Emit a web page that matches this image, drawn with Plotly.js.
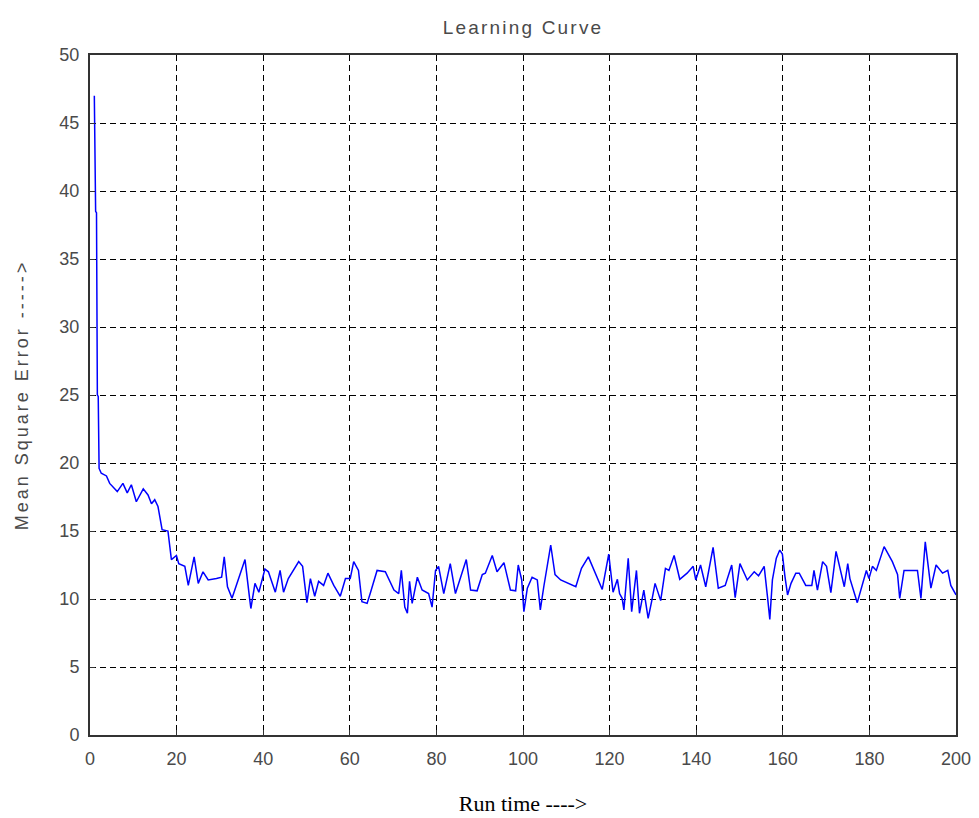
<!DOCTYPE html>
<html>
<head>
<meta charset="utf-8">
<script src="https://cdn.plot.ly/plotly-3.0.1.min.js"></script>
<style>
html,body{margin:0;padding:0;background:#fff;}
#chart{width:979px;height:818px;}
#chart .gtitle{letter-spacing:2.2px;}
#chart .ytitle{letter-spacing:3px;}
</style>
</head>
<body>
<div id="chart"></div>
<script>
// Run time (x) values
const runTime = [
  1.0, 1.3, 1.5, 1.7, 1.9, 2.1, 2.6, 3.8, 4.55, 6.3, 7.6, 8.6, 9.55, 10.7, 12.3, 13.4, 14.2, 14.95, 15.7, 16.65, 18.0,
  18.8, 19.96, 20.5, 21.9, 22.7, 24.05, 25.0, 26.1, 27.3, 29.2, 30.4, 31.0, 31.75, 32.8, 34.2, 35.8, 36.9, 37.15, 38.1, 39.0, 40.4,
  41.2, 42.8, 43.9, 44.7, 45.8, 48.2, 49.1, 50.1, 50.9, 51.9, 52.8, 53.95, 54.95, 56.3, 57.8, 59.0, 60.1, 60.9, 62.0, 62.8, 64.0,
  64.8, 66.3, 68.2, 70.2, 71.3, 71.9, 72.7, 73.3, 73.8, 74.4, 75.6, 76.7, 78.2, 79.0, 79.8, 80.5, 81.7, 83.2, 84.4, 86.9, 87.9,
  89.4, 90.6, 91.3, 92.9, 94.0, 95.6, 97.1, 98.3, 98.9, 99.7, 100.2, 101.0, 102.1, 103.3, 104.0, 104.8, 105.6, 106.4, 107.4, 108.7,
  112.2, 113.5, 115.1, 116.4, 118.3, 119.8, 120.8, 121.8, 122.3, 122.9, 123.3, 124.3, 125.1, 126.2, 126.9, 127.9, 128.9, 129.7,
  130.5, 131.8, 132.9, 133.7, 134.9, 136.2, 137.9, 139.3, 139.9, 141.0, 142.2, 143.9, 145.1, 146.7, 148.2, 149.0, 150.1, 151.8,
  153.4, 154.4, 155.7, 156.5, 157.0, 157.6, 158.5, 159.3, 159.9, 160.5, 161.1, 161.9, 163.0, 163.8, 165.3, 166.7, 167.2, 168.0,
  169.2, 170.1, 171.1, 172.3, 173.0, 174.2, 175.0, 175.5, 177.2, 178.6, 179.3, 179.9, 180.7, 181.6, 183.4, 185.3, 186.5, 187.0,
  188.0, 191.1, 191.9, 192.9, 193.5, 194.2, 195.4, 196.9, 198.1, 198.8, 200.0
];
// Mean square error values
const mse = [
  47.0, 38.5, 38.4, 25.0, 24.9, 19.6, 19.25, 19.05, 18.5, 17.9, 18.5, 17.8, 18.4, 17.15, 18.1, 17.65, 17.0, 17.3, 16.8, 15.1, 15.0,
  12.9, 13.2, 12.6, 12.4, 11.0, 13.1, 11.15, 12.0, 11.4, 11.5, 11.6, 13.1, 10.9, 10.05, 11.4, 12.9, 9.93, 9.3, 11.15, 10.5, 12.2,
  12.0, 10.5, 12.1, 10.5, 11.5, 12.75, 12.4, 9.73, 11.5, 10.2, 11.3, 11.0, 11.9, 11.0, 10.2, 11.5, 11.5, 12.75, 12.1, 9.8, 9.68,
  10.5, 12.1, 12.0, 10.66, 10.4, 12.1, 9.4, 8.95, 11.3, 9.68, 11.6, 10.66, 10.4, 9.4, 12.1, 12.4, 10.4, 12.6, 10.4, 12.9, 10.66,
  10.6, 11.8, 11.9, 13.2, 12.0, 12.67, 10.66, 10.6, 12.5, 11.4, 9.07, 10.8, 11.6, 11.4, 9.2, 10.9, 12.6, 13.97, 11.8, 11.4,
  10.9, 12.25, 13.1, 12.1, 10.7, 13.3, 10.5, 11.45, 10.4, 10.05, 9.2, 13.0, 9.07, 12.1, 8.95, 10.66, 8.58, 9.8,
  11.15, 9.88, 12.25, 12.1, 13.2, 11.45, 11.9, 12.4, 11.4, 12.5, 10.9, 13.8, 10.8, 11.0, 12.5, 10.1, 12.6, 11.4,
  12.0, 11.7, 12.4, 10.05, 8.5, 11.4, 13.0, 13.6, 13.3, 11.65, 10.3, 11.15, 11.9, 11.9, 11.0, 11.0, 12.1, 10.66,
  12.75, 12.4, 10.46, 13.5, 12.6, 10.9, 12.6, 11.5, 9.73, 11.3, 12.1, 11.5, 12.4, 12.1, 13.85, 12.75, 11.8, 10.05,
  12.1, 12.1, 10.05, 14.2, 12.6, 10.8, 12.5, 11.9, 12.1, 11.0, 10.3
];
const xTicks = [0, 20, 40, 60, 80, 100, 120, 140, 160, 180, 200];
const yTicks = [0, 5, 10, 15, 20, 25, 30, 35, 40, 45, 50];

const tickFont = {family: 'Liberation Sans Narrow, Liberation Sans, Arial, sans-serif', size: 18, color: '#4a4a4a'};

const trace = {
  x: runTime,
  y: mse,
  type: 'scatter',
  mode: 'lines',
  line: {color: '#0000ff', width: 1.5},
  hoverinfo: 'x+y'
};

const axisCommon = {
  showline: true,
  mirror: true,
  linecolor: '#333333',
  linewidth: 2,
  ticks: 'inside',
  ticklen: 5,
  tickcolor: '#333333',
  showgrid: true,
  gridcolor: '#000000',
  gridwidth: 1,
  griddash: '6px,4px',
  zeroline: false,
  tickfont: tickFont
};

const layout = {
  width: 979,
  height: 818,
  paper_bgcolor: '#ffffff',
  plot_bgcolor: '#ffffff',
  margin: {l: 90, r: 23, t: 55, b: 83},
  showlegend: false,
  title: {
    text: 'Learning Curve',
    font: {family: 'Liberation Sans, Arial, sans-serif', size: 19, color: '#4a4a4a'},
    x: 0.5, xref: 'paper',
    y: 1 - 27 / 818, yref: 'container', yanchor: 'middle'
  },
  xaxis: Object.assign({}, axisCommon, {
    range: [0, 200],
    tickvals: xTicks,
    ticktext: xTicks.map(String),
    ticklabelstandoff: 6,
    title: {
      text: 'Run time ---->',
      font: {family: 'Liberation Serif, Times New Roman, serif', size: 22, color: '#000000'},
      standoff: 28
    }
  }),
  yaxis: Object.assign({}, axisCommon, {
    range: [0, 50],
    tickvals: yTicks,
    ticktext: yTicks.map(String),
    ticklabelstandoff: 5,
    title: {
      text: 'Mean Square Error ----->',
      font: {family: 'Liberation Sans, Arial, sans-serif', size: 18, color: '#4a4a4a'},
      standoff: 26
    }
  })
};

Plotly.newPlot('chart', [trace], layout, {displayModeBar: false, staticPlot: false});
</script>
</body>
</html>
